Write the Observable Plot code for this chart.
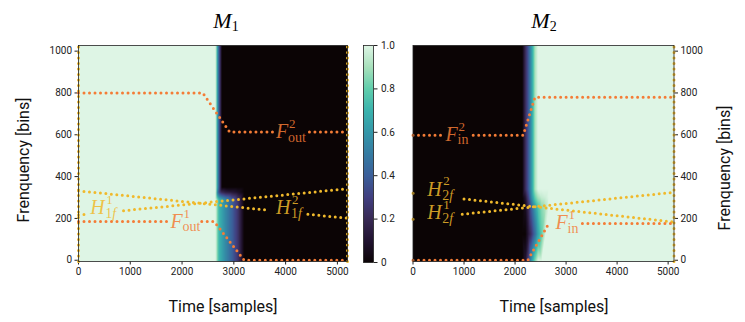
<!DOCTYPE html>
<html><head><meta charset="utf-8">
<script src="https://cdn.jsdelivr.net/npm/d3@7"></script>
<script src="https://cdn.jsdelivr.net/npm/@observablehq/plot@0.6"></script>
<style>
body{margin:0;background:#fff;}
#root{position:relative;width:745px;height:322px;overflow:hidden;font-family:Roboto,sans-serif;}
.abs{position:absolute;}
.lbl{font-size:16px;color:#111;white-space:nowrap;line-height:1;transform:translate(-50%,-50%);}
.rot{transform:translate(-50%,-50%) rotate(-90deg);}
.ttl{font-family:"Liberation Serif",serif;font-size:22px;line-height:1;white-space:nowrap;transform:translateX(-50%);color:#000;}
.ttl i{font-style:italic;}
.ttl span{font-size:14px;position:relative;top:3px;}
</style></head><body><div id="root"></div><script>
// ---------- data ----------
const xTicks = [0, 1000, 2000, 3000, 4000, 5000];
const yTicks = [0, 200, 400, 600, 800, 1000];
const cbTicks = [0, 0.2, 0.4, 0.6, 0.8, 1.0];
const yDomain = [-6, 1027];
const m1_tMax = 5195;
const m2_tMax = 5115;

// M1 mask samples: times (columns), frequencies (rows), values
const M1_T = [0, 2650, 2680, 2710, 2740, 2770, 2840, 2970, 3080, 3200, 5195];
const M1_F = [-6, 290, 325, 350, 1027];
const M1_V = [
  [1, 1, 0.85, 0.72, 0.68, 0.64, 0.55, 0.40, 0.25, 0, 0],
  [1, 1, 0.85, 0.72, 0.68, 0.64, 0.55, 0.40, 0.25, 0, 0],
  [1, 1, 0.55, 0.35, 0.25, 0.20, 0.15, 0.12, 0.08, 0, 0],
  [1, 1, 0.65, 0.40, 0.20, 0, 0, 0, 0, 0, 0],
  [1, 1, 0.65, 0.40, 0.20, 0, 0, 0, 0, 0, 0]
];
// M2 mask samples
const M2_T = [0, 2140, 2200, 2260, 2320, 2390, 2450, 2520, 2600, 2660, 5115];
const M2_F = [-6, 125, 250, 300, 340, 1027];
const M2_V = [
  [0, 0, 0.10, 0.30, 0.60, 0.85, 1, 1, 1, 1, 1],
  [0, 0, 0, 0.12, 0.25, 0.45, 0.65, 0.80, 1, 1, 1],
  [0, 0, 0.05, 0.20, 0.40, 0.60, 0.75, 0.85, 0.92, 1, 1],
  [0, 0, 0.10, 0.30, 0.55, 0.80, 0.90, 0.95, 0.97, 1, 1],
  [0, 0, 0.20, 0.38, 0.60, 0.90, 1, 1, 1, 1, 1],
  [0, 0, 0.20, 0.38, 0.60, 0.90, 1, 1, 1, 1, 1]
];

// trajectories [time, freq]; null = gap
const m1_Fout2 = [[0,800],[2400,800],[2920,613],[3750,613],null,[4460,613],[5195,613]];
const m1_Fout1 = [[0,185],[1745,185],null,[2380,185],[2620,185],[3200,0],[5195,0]];
const m1_H1 = [[0,216],[120,219],null,[870,237],[5195,342]];
const m1_H2 = [[0,332],[3680,239],null,[4430,220],[5195,201]];
const m1_edges = [[0,-6],[0,1027],null,[5195,-6],[5195,1027]];

const m2_Fin2 = [[0,598],[540,598],null,[1180,598],[2160,598],[2390,780],[5115,780]];
const m2_Fin1 = [[0,0],[2250,0],[2663,177],null,[3320,176],[5115,176]];
const m2_H2 = [[0,320],[100,317],null,[1000,293],[5115,183]];
const m2_H1 = [[0,196],[100,198.5],null,[965,220],[5115,325]];
const m2_edges = [[5115,-6],[5115,1027]];

// labels: [base, sup, sub(roman), sub(italic), time, freq]
const m1_labels = [
  ["F","2","out","",3812,613],
  ["F","1","out","",1777,185],
  ["H","1","1","f",227,252],
  ["H","2","1","f",3812,251]
];
const m2_labels = [
  ["F","2","in","",637,600],
  ["F","1","in","",2794,178],
  ["H","2","2","f",278,340],
  ["H","1","2","f",278,229]
];

// ---------- styles ----------
const MAKO = ["#0B0405","#211330","#382A54","#413F80","#3B5F9A","#357BA2","#3497A9","#3AB3AD","#60CEAC","#A8E1BC","#DEF5E5"];
const ORANGE = "#F47C36";
const GOLD = "#F0B92C";
const SERIF = "Liberation Serif";
const colorScale = {type: "linear", domain: MAKO.map((_, i) => i / (MAKO.length - 1)), range: MAKO};

function grid(T, F, V) {
  const out = [];
  F.forEach((f, i) => T.forEach((t, j) => out.push({t, f, v: V[i][j]})));
  return out;
}
function pts(arr) { return arr.map(p => p ? {t: p[0], f: p[1]} : {t: NaN, f: NaN}); }
function lbls(arr) { return arr.map(d => ({base: d[0], sup: d[1], sub: d[2], subI: d[3], t: d[4], f: d[5]})); }

function lineMarks(list, color) {
  return list.map(a => Plot.line(pts(a), {x: "t", y: "f", stroke: color, strokeWidth: 3,
    strokeDasharray: "0 5.5", strokeLinecap: "round", curve: "linear"}));
}
function labelMarks(arr) {
  const L = lbls(arr);
  const F = L.filter(d => d.base === "F"), H = L.filter(d => d.base === "H");
  const common = {x: "t", y: "f", textAnchor: "start", lineAnchor: "middle", fontFamily: SERIF, fillOpacity: 0.85};
  return [
    Plot.text(F, {...common, text: "base", fontStyle: "italic", fontSize: 20, fill: ORANGE}),
    Plot.text(F, {...common, text: "sup", fontSize: 13, fill: ORANGE, dx: 13, dy: -8}),
    Plot.text(F, {...common, text: "sub", fontSize: 14, fill: ORANGE, dx: 12, dy: 5}),
    Plot.text(H, {...common, text: "base", fontStyle: "italic", fontSize: 20, fill: GOLD}),
    Plot.text(H, {...common, text: "sup", fontSize: 13, fill: GOLD, dx: 16, dy: -8}),
    Plot.text(H, {...common, text: "sub", fontSize: 14, fill: GOLD, dx: 15, dy: 6}),
    Plot.text(H, {...common, text: "subI", fontStyle: "italic", fontSize: 14, fill: GOLD, dx: 22, dy: 6})
  ];
}

const plotStyle = {background: "transparent", fontFamily: "Roboto", fontSize: "10px", color: "#222", overflow: "visible"};
const fmt = d => String(d);

// ---------- left panel ----------
const left = Plot.plot({
  width: 360, height: 322, marginLeft: 78, marginRight: 13, marginTop: 45, marginBottom: 61,
  style: plotStyle,
  x: {domain: [0, m1_tMax], ticks: xTicks, tickFormat: fmt, label: null, tickSize: 3.5, tickPadding: 3},
  y: {domain: yDomain, ticks: yTicks, tickFormat: fmt, label: null, tickSize: 3.5, tickPadding: 3},
  color: colorScale,
  marks: [
    Plot.raster(grid(M1_T, M1_F, M1_V), {x: "t", y: "f", fill: "v", interpolate: "barycentric",
      x1: 0, x2: m1_tMax, y1: yDomain[0], y2: yDomain[1]}),
    ...lineMarks([m1_edges, m1_H1, m1_H2], GOLD),
    ...lineMarks([m1_Fout2, m1_Fout1], ORANGE),
    ...labelMarks(m1_labels),
    Plot.frame({stroke: "#222", strokeWidth: 0.8})
  ]
});

// ---------- colorbar ----------
const cbar = Plot.plot({
  width: 60, height: 322, marginLeft: 8, marginRight: 42, marginTop: 45, marginBottom: 60,
  style: plotStyle,
  x: {domain: [0, 1], axis: null},
  y: {domain: [0, 1], axis: "right", ticks: cbTicks, tickFormat: d => d === 0 ? "0" : d.toFixed(1), label: null, tickSize: 3.5, tickPadding: 4},
  color: colorScale,
  marks: [
    Plot.raster({fill: (x, y) => y, x1: 0, x2: 1, y1: 0, y2: 1}),
    Plot.frame({stroke: "#222", strokeWidth: 0.8})
  ]
});

// ---------- right panel ----------
const right = Plot.plot({
  width: 345, height: 322, marginLeft: 12.5, marginRight: 71.5, marginTop: 45, marginBottom: 61,
  style: plotStyle,
  x: {domain: [0, m2_tMax], ticks: xTicks, tickFormat: fmt, label: null, tickSize: 3.5, tickPadding: 3},
  y: {domain: yDomain, axis: "right", ticks: yTicks, tickFormat: fmt, label: null, tickSize: 3.5, tickPadding: 3},
  color: colorScale,
  marks: [
    Plot.raster(grid(M2_T, M2_F, M2_V), {x: "t", y: "f", fill: "v", interpolate: "barycentric",
      x1: 0, x2: m2_tMax, y1: yDomain[0], y2: yDomain[1]}),
    ...lineMarks([m2_edges, m2_H1, m2_H2], GOLD),
    ...lineMarks([m2_Fin2, m2_Fin1], ORANGE),
    ...labelMarks(m2_labels),
    Plot.frame({stroke: "#222", strokeWidth: 0.8})
  ]
});

// ---------- assemble ----------
const root = document.getElementById("root");
function place(el, x, y) { const d = document.createElement("div"); d.className = "abs"; d.style.left = x + "px"; d.style.top = y + "px"; d.appendChild(el); root.appendChild(d); }
place(left, 0, 0);
place(cbar, 355, 0);
place(right, 400, 0);
function html(cls, x, y, inner) { const d = document.createElement("div"); d.className = "abs " + cls; d.style.left = x + "px"; d.style.top = y + "px"; d.innerHTML = inner; root.appendChild(d); }
html("ttl", 226, 10, "<i>M</i><span>1</span>");
html("ttl", 544, 10, "<i>M</i><span>2</span>");
html("lbl", 223, 307, "Time [samples]");
html("lbl", 554, 307, "Time [samples]");
html("lbl rot", 24, 160, "Frenquency [bins]");
html("lbl rot", 725, 168, "Frenquency [bins]");
</script></body></html>
